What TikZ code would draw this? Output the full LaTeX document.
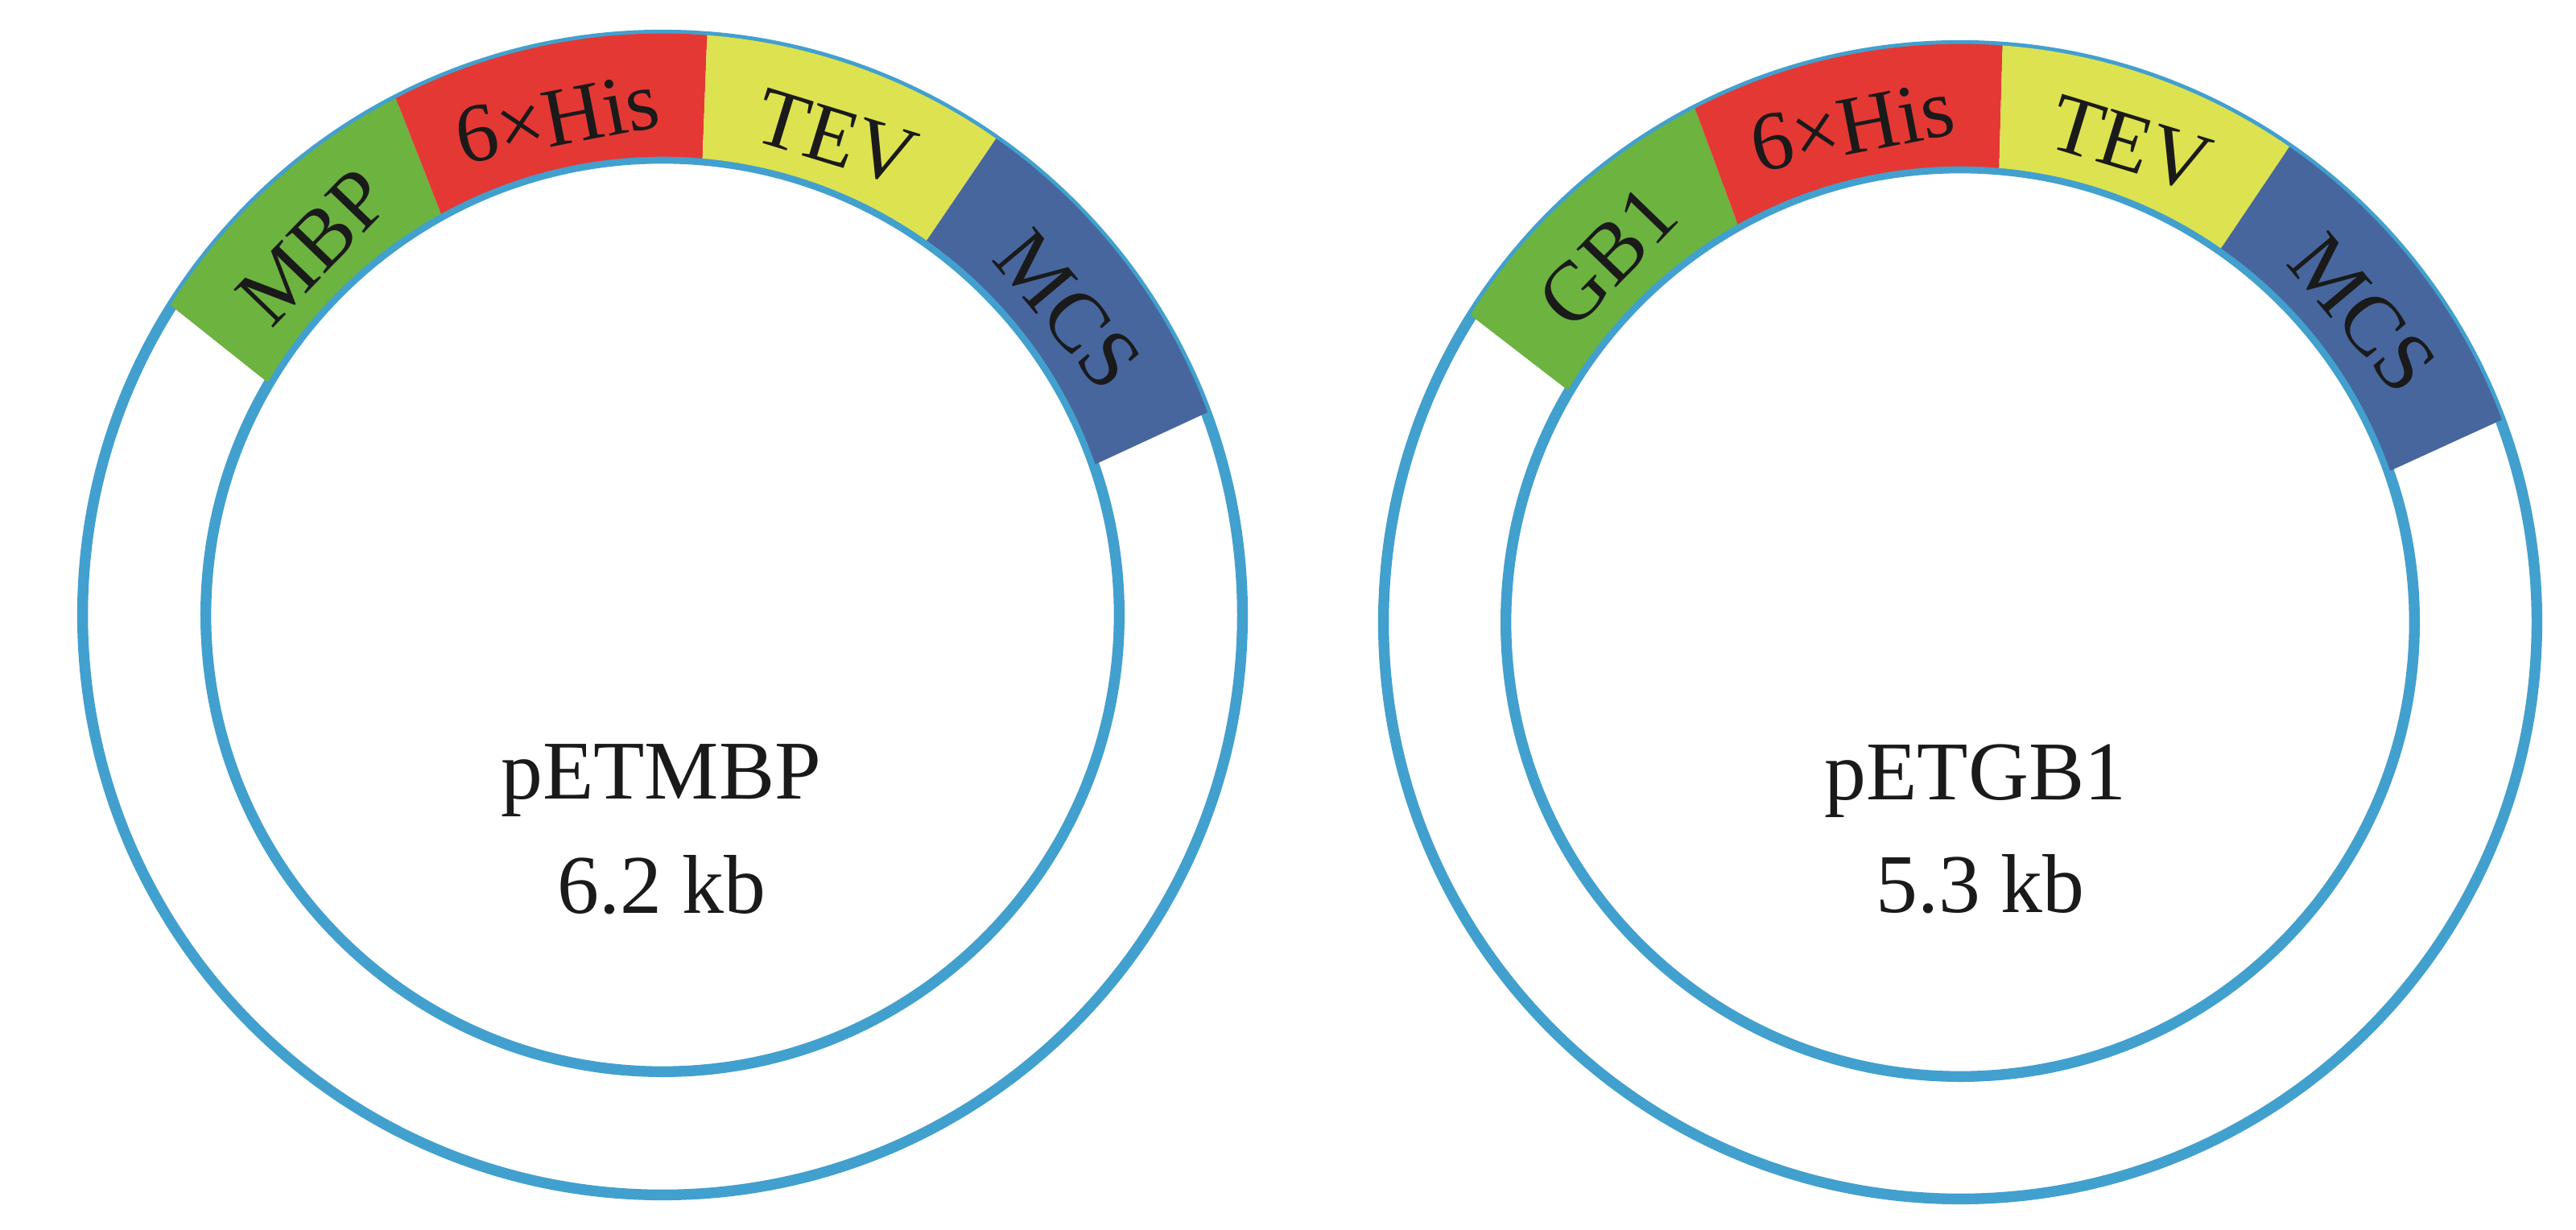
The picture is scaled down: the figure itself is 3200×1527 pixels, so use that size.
\documentclass[tikz,border=0pt]{standalone}
\usepackage{fontspec}
\setmainfont{Liberation Serif}
\usetikzlibrary{calc}
\definecolor{ring}{RGB}{66,160,206}
\definecolor{segG}{RGB}{108,179,64}
\definecolor{segR}{RGB}{228,56,52}
\definecolor{segY}{RGB}{221,226,80}
\definecolor{segB}{RGB}{71,102,158}
\definecolor{ink}{RGB}{26,26,26}
% #1 centre, #2 outer radius, #3 inner radius, #4 colour, #5 outer start, #6 outer end, #7 inner start, #8 inner end
\newcommand\bandseg[8]{%
  \fill[#4] ([shift={(#1)}]#5:#2) arc[start angle=#5, end angle=#6, radius=#2]
    -- ([shift={(#1)}]#8:#3) arc[start angle=#8, end angle=#7, radius=#3] -- cycle;}
\begin{document}
\begin{tikzpicture}[x=0.01cm,y=0.01cm,
  ringline/.style={draw=ring,line width=3.8pt},
  seglabel/.style={font=\fontsize{29.5}{35}\selectfont, text=ink, inner sep=0pt},
  centrelabel/.style={font=\fontsize{29.5}{35}\selectfont, text=ink, inner sep=0pt, anchor=base}]
\useasboundingbox[fill=white] (0,0) rectangle (3200,1527);
\coordinate (L) at (823,763);
\coordinate (R) at (2435,754);
% left plasmid
\draw[ringline] (L) circle[radius=7.2cm];
\draw[ringline] (L) circle[radius=5.67cm];
\bandseg{L}{7.22cm}{5.69cm}{segG}{147.8}{117.3}{149.5}{118.9}
\bandseg{L}{7.22cm}{5.69cm}{segR}{117.3}{85.6}{118.9}{85.0}
\bandseg{L}{7.22cm}{5.69cm}{segY}{85.6}{55.0}{85.0}{54.8}
\bandseg{L}{7.22cm}{5.69cm}{segB}{55.0}{20.4}{54.8}{19.2}
\node[seglabel, rotate=46] (mbpL) at ([shift={(L)}]133.5:6.3cm) {MBP};
\node[seglabel, rotate=11] (hisL) at ([shift={(L)}]102:6.3cm) {6×His};
\node[seglabel, rotate=-17] (tevL) at ([shift={(L)}]70:6.3cm) {TEV};
\node[seglabel, rotate=-50] (mcsL) at ([shift={(L)}]37:6.3cm) {MCS};
\node[centrelabel] (nameL) at (821,534) {pETMBP};
\node[centrelabel] (sizeL) at (822,392) {6.2 kb};
% right plasmid
\draw[ringline] (R) circle[radius=7.16cm];
\draw[ringline] (R) circle[radius=5.64cm];
\bandseg{R}{7.18cm}{5.66cm}{segG}{147.9}{117.3}{149.4}{119.2}
\bandseg{R}{7.18cm}{5.66cm}{segR}{117.3}{85.8}{119.2}{85.1}
\bandseg{R}{7.18cm}{5.66cm}{segY}{85.8}{55.3}{85.1}{55.1}
\bandseg{R}{7.18cm}{5.66cm}{segB}{55.3}{20.5}{55.1}{19.4}
\node[seglabel, rotate=46] (gbR) at ([shift={(R)}]134:6.3cm) {GB1};
\node[seglabel, rotate=11] (hisR) at ([shift={(R)}]102.3:6.3cm) {6×His};
\node[seglabel, rotate=-17] (tevR) at ([shift={(R)}]70.4:6.3cm) {TEV};
\node[seglabel, rotate=-50] (mcsR) at ([shift={(R)}]37.5:6.3cm) {MCS};
\node[centrelabel] (nameR) at (2454,533) {pETGB1};
\node[centrelabel] (sizeR) at (2460,393) {5.3 kb};
\end{tikzpicture}
\end{document}
